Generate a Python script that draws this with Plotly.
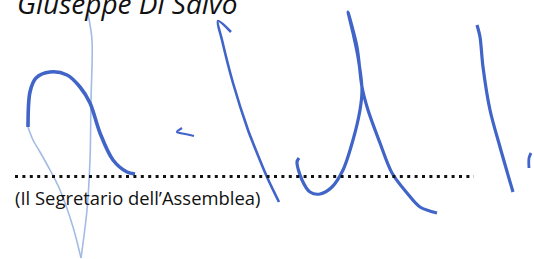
import plotly.graph_objects as go

# ---- data: stroke paths (pixel units, y down) ----
loop_x = [135, 127, 113, 100, 90, 80, 67, 50, 36, 30, 28]
loop_y = [174, 172, 160, 133, 103, 87, 75, 72, 78, 92, 127]
tail_x = [28, 33, 40, 50, 60, 73, 81]
tail_y = [127, 140, 152, 170, 190, 227, 258]
stem_x = [88, 92, 91, 90, 87, 81]
stem_y = [14, 40, 100, 160, 210, 258]
dash_x = [182, 177, 185, 194]
dash_y = [128, 132, 134, 136]
long_x = [231, 218, 222, 233, 248, 253, 267, 279]
long_y = [32, 21, 40, 83, 130, 143, 177, 202]
arch_x = [299, 297, 302, 310, 320, 332, 343, 353, 360, 362, 358, 353, 348,
          357, 362, 368, 380, 392, 407, 420, 437]
arch_y = [158, 162, 180, 192, 194, 187, 170, 140, 110, 90, 57, 33, 12,
          47, 87, 110, 143, 173, 193, 207, 213]
right_x = [477, 480, 483, 490, 500, 513]
right_y = [25, 37, 67, 110, 147, 192]
tick_x = [531, 529, 529]
tick_y = [153, 158, 168]
rule_x = [15, 474]
rule_y = [176.5, 176.5]

name_text = "Giuseppe Di Salvo"
role_text = "(Il Segretario dell\u2019Assemblea)"

DARK = "#4064c8"
LIGHT = "#a3bbe6"

fig = go.Figure()

def stroke(x, y, color, width):
    fig.add_trace(go.Scatter(x=x, y=y, mode="lines",
                             line=dict(color=color, width=width, shape="spline", smoothing=0.9),
                             hoverinfo="skip", showlegend=False))

stroke(stem_x, stem_y, LIGHT, 1.6)
stroke(tail_x, tail_y, LIGHT, 1.6)
stroke(loop_x, loop_y, DARK, 3.6)
stroke(dash_x, dash_y, DARK, 2.2)
stroke(long_x, long_y, DARK, 2.6)
stroke(arch_x, arch_y, DARK, 3.2)
stroke(right_x, right_y, DARK, 3.2)
stroke(tick_x, tick_y, DARK, 2.8)

fig.add_trace(go.Scatter(x=rule_x, y=rule_y, mode="lines",
                         line=dict(color="#111111", width=3, dash="3px,4.4px"),
                         hoverinfo="skip", showlegend=False))

fig.add_annotation(x=13, y=212, xref="x", yref="y", text=role_text, showarrow=False,
                   xanchor="left", yanchor="bottom",
                   font=dict(family="Open Sans", size=18.4, color="#111111"))
fig.add_annotation(x=15, y=24, xref="x", yref="y", text="<i>" + name_text + "</i>", showarrow=False,
                   xanchor="left", yanchor="bottom",
                   font=dict(family="Open Sans", size=28, color="#111111"))

fig.update_layout(width=534, height=259, margin=dict(l=0, r=0, t=0, b=0),
                  paper_bgcolor="white", plot_bgcolor="white",
                  xaxis=dict(range=[0, 534], visible=False, fixedrange=True),
                  yaxis=dict(range=[259, 0], visible=False, fixedrange=True))

fig.write_html("out.html", config={"displayModeBar": False},
               post_script="document.body.style.margin='0';document.body.style.overflow='hidden';")
